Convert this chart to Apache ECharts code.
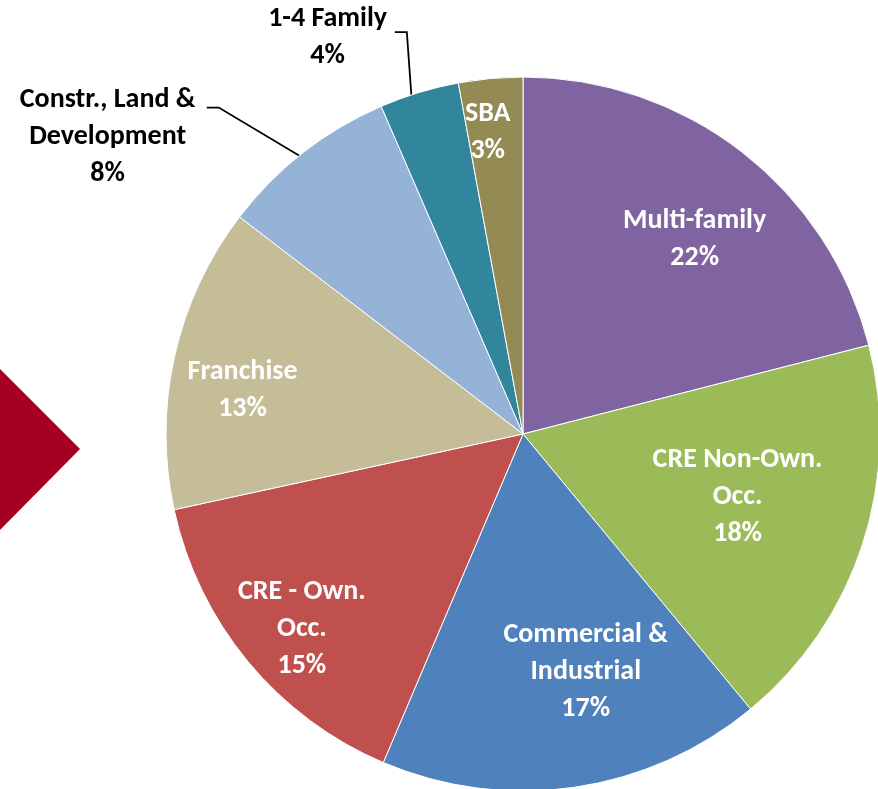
<!DOCTYPE html>
<html lang="en">
<head>
<meta charset="UTF-8">
<title>Loan mix</title>
<script src="https://cdn.jsdelivr.net/npm/echarts@6/dist/echarts.min.js"></script>
<style>
    html, body { margin: 0; padding: 0; background: #fff; }
    #main { width: 878px; height: 789px; }
</style>
</head>
<body>
<div id="main"></div>
<script>
    // slice names, split where the labels wrap
    var names = ['Multi-family', 'CRE Non-Own.\nOcc.', 'Commercial &\nIndustrial', 'CRE - Own.\nOcc.',
        'Franchise', 'Constr., Land &\nDevelopment', '1-4 Family', 'SBA'];
    // share of the book in %
    var shares = [21.0, 18.0, 17.4, 15.2, 13.8, 8.1, 3.6, 2.9];
    // percentages as printed on the labels
    var printed = ['22%', '18%', '17%', '15%', '13%', '8%', '4%', '3%'];
    var outside = [false, false, false, false, false, true, true, false];

    var colors = ['#8064A2', '#9BBB59', '#4F81BD', '#C0504D', '#C4BD97', '#95B3D7', '#31859C', '#948A54'];
    // label spot: radius ratio and turn (deg) away from the slice middle
    var spots = [[0.73, 3.4], [0.625, -2.1], [0.684, -6.6], [0.822, -1.5], [0.796, -3.3],
        [1.433, -16.3], [1.243, -9.2], [0.857, -1.4]];
    // leader lines: start r, start turn, elbow r, elbow turn, tail length px
    var leaders = {5: [1.0, -0.8, 1.25, -5, 12], 6: [0.98, -1.6, 1.172, 0.8, 12]};

    var CX = 523, CY = 434, R = 357;

    // middle angle of every slice, clockwise from 12 o'clock
    var total = shares.reduce(function (a, b) { return a + b; }, 0);
    var mids = [], acc = 0;
    shares.forEach(function (v) {
        var deg = v / total * 360;
        mids.push(acc + deg / 2);
        acc += deg;
    });

    function at(deg, ratio) {
        var a = deg * Math.PI / 180;
        return [CX + ratio * R * Math.sin(a), CY - ratio * R * Math.cos(a)];
    }

    var pieData = names.map(function (n, i) {
        return {
            name: n,
            value: shares[i],
            itemStyle: {color: colors[i]},
            label: {position: outside[i] ? 'outside' : 'inside', color: outside[i] ? '#000' : '#fff'},
            labelLine: {show: outside[i]}
        };
    });

    var myChart = echarts.init(document.getElementById('main'));
    myChart.setOption({
        animation: false,
        graphic: [{
            type: 'polygon',
            shape: {points: [[0, 369], [80, 449], [0, 530]]},
            style: {fill: '#A50021'}
        }],
        series: [{
            type: 'pie',
            center: [CX, CY],
            radius: R,
            startAngle: 90,
            clockwise: true,
            avoidLabelOverlap: false,
            silent: true,
            itemStyle: {borderColor: '#fff', borderWidth: 1},
            label: {
                show: true,
                fontFamily: 'Carlito, Lato, sans-serif',
                fontWeight: 'bold',
                fontSize: 28,
                lineHeight: 37,
                align: 'center',
                formatter: function (p) {
                    return p.name + '\n' + printed[p.dataIndex];
                }
            },
            labelLine: {
                show: false,
                lineStyle: {color: '#000', width: 1.8}
            },
            labelLayout: function (p) {
                var i = p.dataIndex;
                var pt = at(mids[i] + spots[i][1], spots[i][0]);
                // text sits a touch lower than the box centre in the original
                var out = {x: pt[0], y: pt[1] + 2, align: 'center', verticalAlign: 'middle'};
                var l = leaders[i];
                if (l) {
                    var s = at(mids[i] + l[1], l[0]);
                    var e = at(mids[i] + l[3], l[2]);
                    out.labelLinePoints = [s, e, [e[0] - l[4], e[1]]];
                }
                return out;
            },
            data: pieData
        }]
    });
</script>
</body>
</html>
